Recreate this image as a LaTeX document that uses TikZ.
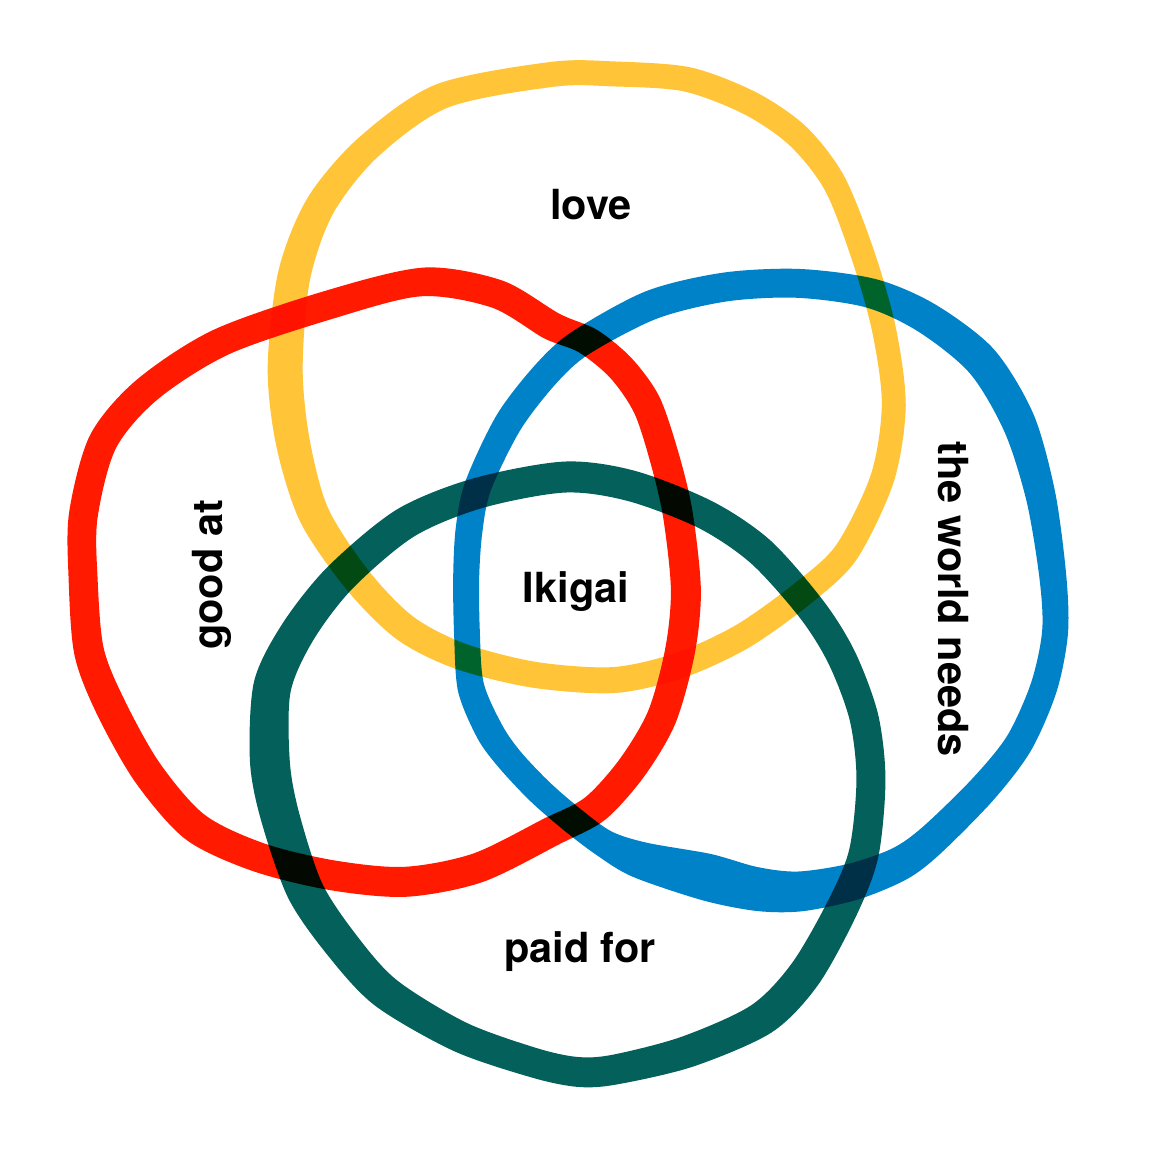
\documentclass[tikz,border=0pt]{standalone}
\usepackage{fontspec}
\setmainfont{TeX Gyre Heros}
\usetikzlibrary{positioning}
\definecolor{lovecol}{HTML}{FFC438}
\definecolor{goodcol}{HTML}{FF1A00}
\definecolor{worldcol}{HTML}{0082C8}
\definecolor{paidcol}{HTML}{03605B}
\tikzstyle{band} = [even odd rule, blend mode=multiply]
\tikzstyle{word} = [inner sep=0pt, anchor=base, font=\fontsize{11.8}{14}\selectfont\bfseries]

\begin{document}
\begin{tikzpicture}[x=0.1mm, y=-0.1mm]
\fill[white] (0,0) rectangle (1154,1154);
% love: outer edge, then inner edge (angle:radius round the centre)
\begin{scope}[shift={(590,378)}]
\fill[band, lovecol] plot[smooth cycle] coordinates {(262.9:318.5) (274.5:317.5) (288:326.5) (300.2:330.5) (310.7:331.5) (321.6:324.5) (336.4:311) (350.9:310) (5.1:317) (18.9:321) (34.1:322.5) (44.9:316) (59.3:313) (72.6:314) (85.5:316) (100.7:315) (115.1:320.5) (126.5:325) (139:322.5) (153.6:323.5) (167.8:321) (181.9:322.5) (199:329.5) (212.5:335) (226.1:333.5) (242.3:331.5)}
  plot[smooth cycle] coordinates {(262.9:293.5) (274.5:292.5) (288:301.5) (300.2:305.5) (310.7:306.5) (321.6:300.5) (336.4:287) (350.9:286) (5.1:293) (18.9:297) (34.1:297.5) (44.9:290) (59.3:287) (72.6:288) (85.5:290) (100.7:289) (115.1:293.5) (126.5:297) (139:293.5) (153.6:292.5) (167.8:287) (181.9:287.5) (199:296.5) (212.5:305) (226.1:306.5) (242.3:305.5)};
\end{scope}
% good at
\begin{scope}[shift={(385,582)}]
\fill[band, goodcol] plot[smooth cycle] coordinates {(277.2:317) (291.3:323.5) (303.1:320) (310.1:329.5) (317.8:333) (326:331) (336.5:320.5) (347.1:315.5) (1.5:316) (13.2:318) (26:323) (37:324) (47.2:324) (56.2:315) (72:315.5) (86.2:315.5) (100.4:313) (114.8:318) (127.8:325.5) (141.4:320) (155.7:317) (166.9:319) (180.9:316.5) (192.5:323.5) (206.4:329.5) (218.9:320.5) (235.7:305) (259:297.5)}
  plot[smooth cycle] coordinates {(277.2:288) (291.3:294.5) (303.1:291) (310.1:300.5) (317.8:304) (326:301) (336.5:290.5) (347.1:285.5) (1.5:286) (13.2:288) (26:293) (37:294) (47.2:294) (56.2:285) (72:285.5) (86.2:285.5) (100.4:283) (114.8:288) (127.8:294.5) (141.4:289) (155.7:286) (166.9:289) (180.9:287.5) (192.5:294.5) (206.4:300.5) (218.9:291.5) (235.7:276) (259:268.5)};
\end{scope}
% the world needs
\begin{scope}[shift={(760,587)}]
\fill[band, worldcol] plot[smooth cycle] coordinates {(263.2:316.5) (277.1:320.5) (290.7:329) (301.8:332.5) (314.5:333.5) (327.7:323.5) (342.2:310) (358:306.5) (8.7:311.5) (19.4:314.5) (31.1:316.5) (42.4:316) (56:322) (63.3:327) (72.5:327.5) (82.5:327) (90.6:324) (100.4:318.5) (113.7:316.5) (121.2:314) (128.7:312.5) (137:314) (145.3:317.5) (151.8:320.5) (160.9:319.5) (171.3:309.5) (181.9:307) (191.1:310) (199.7:313) (213.1:314.5) (224.6:316) (233.6:317) (248.9:317)}
  plot[smooth cycle] coordinates {(263.2:287.5) (277.1:291.5) (290.7:299) (301.8:300.5) (314.5:299.5) (327.7:289.5) (342.2:280) (358:279.5) (8.7:285.5) (19.4:287.5) (31.1:288.5) (42.4:286) (56:290) (63.3:293) (72.5:290.5) (82.5:287) (90.6:280) (100.4:271.5) (113.7:279.5) (121.2:286) (128.7:285.5) (137:287) (145.3:290.5) (151.8:292.5) (160.9:292.5) (171.3:283.5) (181.9:281) (191.1:283) (199.7:286) (213.1:286.5) (224.6:288) (233.6:289) (248.9:287.5)};
\end{scope}
% paid for
\begin{scope}[shift={(570,775)}]
\fill[band, paidcol] plot[smooth cycle] coordinates {(269:313.5) (282.1:311) (297.6:308.5) (310.6:308.5) (325.7:307.5) (336.7:310.5) (348.8:314) (0.8:315.5) (14.9:319) (26.1:319) (40.3:325) (51.9:327) (67.1:316.5) (81.5:313) (88.6:312) (97.1:305) (112.8:299.5) (130.2:302) (143.3:302) (156.5:307.5) (172:312.5) (182.7:320.5) (196.5:329.5) (207.7:325) (220.6:319.5) (236.8:317) (251.9:312)}
  plot[smooth cycle] coordinates {(269:282.5) (282.1:280) (297.6:278.5) (310.6:278.5) (325.7:278.5) (336.7:281.5) (348.8:285) (0.8:286.5) (14.9:289) (26.1:287) (40.3:291) (51.9:293) (67.1:284.5) (81.5:283) (88.6:282) (97.1:275) (112.8:268.5) (130.2:268.5) (143.3:267) (156.5:270.5) (172:273.5) (182.7:280.5) (196.5:291.5) (207.7:290) (220.6:286.5) (236.8:285) (251.9:281)};
\end{scope}
% labels
\node (love) [word] at (591,220) {love};
\node (good) [word, rotate=90] at (222,575) {good at};
\node (world) [word, rotate=-90] at (938,599) {the world needs};
\node (ikigai) [word] at (576,602) {Ikigai};
\node (paid) [word] at (580,962) {paid for};
\end{tikzpicture}
\end{document}
